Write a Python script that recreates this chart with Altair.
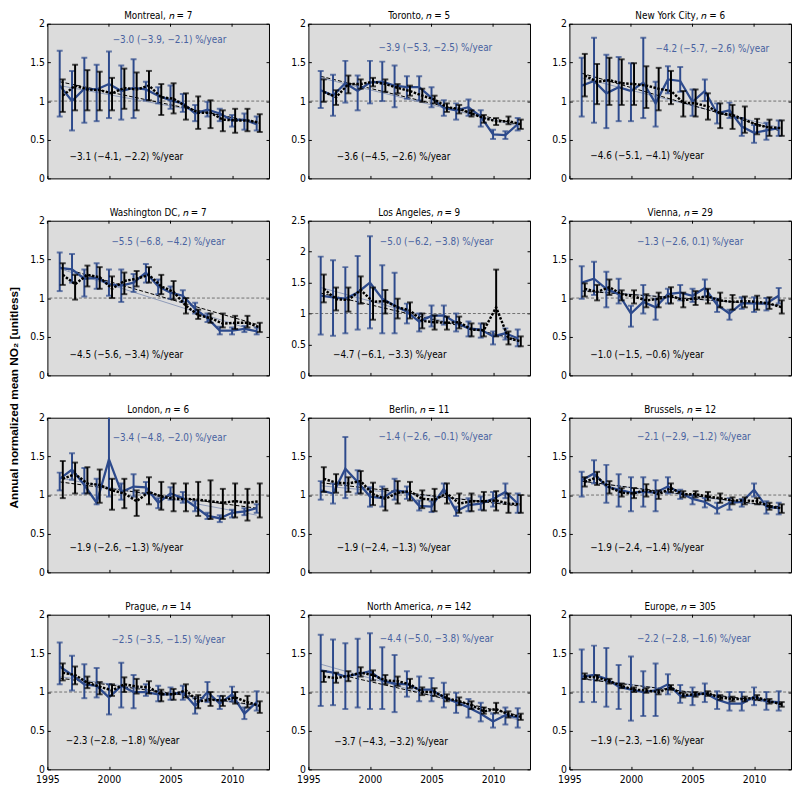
import altair as alt
import pandas as pd

YEARS = list(range(1996, 2013))
X_TICKS = [1995, 2000, 2005, 2010]
GND_SHIFT = 0.25

# (mean, lower, upper) per year 1996..2012 ; sat = blue series, gnd = black series
montreal_sat = [(1.20,0.80,1.65),(1.00,0.62,1.39),(1.16,0.72,1.56),(1.15,0.74,1.47),(1.22,0.78,1.64),(1.13,0.76,1.46),(1.17,0.78,1.54),(1.15,1.01,1.25),(1.07,0.97,1.18),(1.01,0.90,1.20),(0.97,0.86,1.09),(0.84,0.74,0.95),(0.89,0.80,0.99),(0.84,0.74,0.90),(0.75,0.67,0.82),(0.76,0.63,0.84),(0.70,0.62,0.80)]
montreal_gnd = [(1.07,0.86,1.28),(1.20,0.88,1.47),(1.15,0.88,1.40),(1.14,0.88,1.38),(1.10,0.88,1.30),(1.17,0.90,1.42),(1.15,0.88,1.37),(1.20,1.01,1.39),(1.05,0.82,1.22),(1.03,0.84,1.23),(0.93,0.76,1.10),(0.85,0.64,1.06),(0.85,0.65,1.01),(0.76,0.61,0.88),(0.75,0.59,0.90),(0.75,0.61,0.90),(0.72,0.60,0.83)]
toronto_sat = [(1.14,0.91,1.39),(1.07,0.81,1.34),(1.23,0.98,1.52),(1.13,0.88,1.33),(1.24,0.97,1.52),(1.25,1.00,1.51),(1.20,0.92,1.46),(1.18,1.03,1.32),(1.18,1.01,1.32),(1.04,0.92,1.18),(0.91,0.81,1.01),(0.88,0.76,0.97),(0.92,0.81,1.02),(0.80,0.67,0.88),(0.57,0.51,0.63),(0.56,0.51,0.61),(0.70,0.62,0.78)]
toronto_gnd = [(1.12,0.99,1.28),(1.05,0.95,1.14),(1.22,1.10,1.33),(1.22,1.16,1.28),(1.25,1.19,1.30),(1.22,1.12,1.28),(1.17,1.10,1.22),(1.13,1.07,1.20),(1.07,0.99,1.16),(1.02,0.97,1.07),(0.92,0.86,0.97),(0.90,0.84,0.95),(0.84,0.80,0.88),(0.78,0.72,0.82),(0.74,0.69,0.78),(0.74,0.70,0.80),(0.70,0.64,0.76)]
nyc_sat = [(1.20,0.80,1.56),(1.26,0.72,1.82),(1.10,0.65,1.60),(1.18,0.74,1.57),(1.13,0.74,1.49),(1.24,0.78,1.82),(0.97,0.67,1.25),(1.28,1.10,1.45),(1.26,1.12,1.44),(0.99,0.81,1.15),(1.13,1.00,1.28),(0.84,0.71,0.97),(0.88,0.78,0.98),(0.67,0.55,0.78),(0.59,0.46,0.69),(0.62,0.50,0.72),(0.65,0.55,0.75)]
nyc_gnd = [(1.33,1.06,1.61),(1.25,0.96,1.48),(1.27,0.95,1.56),(1.23,0.95,1.54),(1.22,0.95,1.49),(1.20,0.91,1.45),(1.16,0.88,1.43),(1.13,0.96,1.39),(0.98,0.80,1.13),(0.97,0.80,1.15),(0.93,0.76,1.10),(0.84,0.65,0.97),(0.82,0.64,0.95),(0.76,0.59,0.93),(0.69,0.57,0.77),(0.66,0.55,0.76),(0.65,0.55,0.75)]
washington_sat = [(1.39,1.09,1.59),(1.37,1.20,1.57),(1.25,1.02,1.37),(1.26,1.12,1.45),(1.18,1.03,1.37),(1.16,0.95,1.37),(1.20,1.08,1.31),(1.33,1.20,1.44),(1.15,1.05,1.24),(1.07,0.99,1.15),(1.03,0.95,1.10),(0.86,0.80,0.94),(0.74,0.69,0.80),(0.58,0.53,0.63),(0.58,0.53,0.62),(0.60,0.56,0.64),(0.57,0.53,0.62)]
washington_gnd = [(1.30,1.17,1.45),(1.18,0.98,1.30),(1.30,1.15,1.42),(1.27,1.12,1.40),(1.12,1.00,1.28),(1.22,1.05,1.33),(1.25,1.15,1.35),(1.30,1.20,1.40),(1.15,1.05,1.30),(1.08,0.98,1.22),(0.90,0.80,1.00),(0.78,0.73,0.85),(0.74,0.68,0.80),(0.67,0.62,0.80),(0.68,0.60,0.77),(0.68,0.62,0.77),(0.62,0.56,0.68)]
la_sat = [(1.29,0.66,1.92),(1.26,0.64,1.86),(1.24,0.68,1.75),(1.34,0.74,1.93),(1.50,0.76,2.25),(1.24,0.68,1.78),(1.13,0.68,1.66),(1.03,0.84,1.16),(0.87,0.71,1.00),(0.96,0.79,1.13),(0.97,0.82,1.13),(0.85,0.71,1.00),(0.76,0.63,0.87),(0.74,0.61,0.84),(0.63,0.50,0.71),(0.68,0.58,0.76),(0.60,0.47,0.74)]
la_gnd = [(1.40,1.18,1.63),(1.23,1.05,1.42),(1.22,1.03,1.42),(1.38,1.16,1.60),(1.19,0.90,1.42),(1.20,1.00,1.38),(1.10,0.92,1.24),(1.05,0.92,1.18),(0.88,0.76,1.00),(0.86,0.74,0.97),(0.85,0.74,0.95),(0.86,0.76,0.95),(0.74,0.63,0.84),(0.73,0.63,0.84),(1.10,0.63,1.71),(0.60,0.50,0.71),(0.55,0.47,0.63)]
vienna_sat = [(1.20,0.99,1.41),(1.25,1.04,1.47),(1.12,0.88,1.34),(1.05,0.93,1.25),(0.80,0.63,0.90),(0.95,0.80,1.17),(0.88,0.72,0.99),(1.05,0.93,1.12),(1.07,0.97,1.17),(1.03,0.95,1.12),(1.13,1.02,1.24),(0.91,0.82,0.99),(0.80,0.72,0.85),(0.93,0.86,1.01),(0.93,0.82,1.01),(0.93,0.84,1.00),(1.03,0.93,1.13)]
vienna_gnd = [(1.12,1.02,1.19),(1.08,0.97,1.17),(1.14,1.04,1.24),(1.05,0.97,1.10),(1.02,0.93,1.10),(0.97,0.88,1.05),(0.99,0.88,1.07),(1.03,0.93,1.14),(0.97,0.88,1.07),(1.00,0.91,1.09),(1.02,0.93,1.12),(0.97,0.88,1.07),(0.95,0.85,1.04),(0.96,0.88,1.02),(0.95,0.85,1.03),(0.93,0.86,1.01),(0.88,0.80,0.97)]
london_sat = [(1.21,1.06,1.29),(1.33,1.20,1.54),(1.13,1.02,1.35),(0.90,0.88,1.21),(1.46,0.98,2.10),(1.04,0.94,1.15),(1.11,0.98,1.27),(1.10,1.02,1.17),(0.90,0.83,0.96),(1.02,0.94,1.10),(0.96,0.90,1.04),(0.85,0.79,0.92),(0.73,0.69,0.77),(0.70,0.65,0.74),(0.77,0.71,0.81),(0.79,0.74,0.83),(0.83,0.77,0.88)]
london_gnd = [(1.21,0.96,1.44),(1.27,1.02,1.42),(1.15,1.02,1.36),(1.13,0.90,1.33),(1.06,0.81,1.21),(1.02,0.83,1.21),(0.92,0.73,1.06),(1.04,0.88,1.23),(0.98,0.81,1.17),(0.95,0.79,1.15),(0.95,0.79,1.15),(0.94,0.73,1.17),(0.92,0.69,1.19),(0.90,0.69,1.08),(0.92,0.71,1.15),(0.90,0.67,1.08),(0.92,0.71,1.15)]
berlin_sat = [(1.06,0.94,1.18),(1.02,0.89,1.15),(1.34,0.96,1.75),(1.17,1.02,1.32),(0.98,0.85,1.10),(0.96,0.85,1.11),(1.06,0.94,1.21),(1.04,0.95,1.11),(0.86,0.80,0.93),(0.85,0.78,0.92),(1.08,1.02,1.15),(0.79,0.73,0.85),(0.87,0.79,0.96),(0.89,0.81,0.98),(0.95,0.85,1.04),(1.04,0.96,1.15),(0.89,0.77,1.02)]
berlin_gnd = [(1.21,1.04,1.36),(1.16,1.03,1.27),(1.15,1.04,1.23),(1.18,1.02,1.31),(1.01,0.87,1.16),(0.95,0.80,1.08),(1.03,0.89,1.18),(1.05,0.93,1.17),(0.95,0.83,1.06),(0.94,0.79,1.08),(1.02,0.89,1.15),(0.89,0.77,1.02),(0.92,0.79,1.02),(0.92,0.80,1.04),(0.93,0.80,1.05),(0.89,0.77,1.02),(0.88,0.77,1.00)]
brussels_sat = [(1.19,0.98,1.30),(1.28,1.15,1.45),(1.11,0.90,1.39),(1.07,0.85,1.27),(1.03,0.79,1.23),(1.04,0.85,1.23),(1.03,0.79,1.19),(1.11,1.02,1.23),(1.03,0.95,1.07),(0.95,0.88,1.00),(0.91,0.84,0.96),(0.82,0.76,0.90),(0.90,0.81,0.96),(0.91,0.85,0.95),(1.07,0.98,1.15),(0.85,0.76,0.92),(0.83,0.75,0.90)]
brussels_gnd = [(1.17,1.11,1.23),(1.23,1.13,1.30),(1.10,1.02,1.18),(1.03,0.98,1.09),(1.02,0.96,1.09),(1.07,0.98,1.14),(1.01,0.95,1.06),(1.09,1.04,1.15),(1.01,0.97,1.05),(1.01,0.97,1.05),(0.98,0.93,1.04),(0.96,0.90,1.02),(0.93,0.88,0.97),(0.93,0.88,0.97),(0.92,0.88,0.96),(0.85,0.81,0.90),(0.83,0.77,0.88)]
prague_sat = [(1.33,1.10,1.64),(1.22,1.02,1.47),(1.10,0.92,1.36),(1.08,0.93,1.31),(0.93,0.71,1.10),(1.08,0.80,1.38),(1.00,0.79,1.22),(1.00,0.95,1.10),(0.97,0.88,1.08),(0.97,0.90,1.06),(1.00,0.90,1.08),(0.82,0.72,0.92),(1.00,0.87,1.13),(0.85,0.78,0.95),(0.97,0.88,1.07),(0.72,0.65,0.80),(0.87,0.76,1.01)]
prague_gnd = [(1.25,1.15,1.37),(1.22,1.10,1.33),(1.12,1.05,1.20),(1.07,0.97,1.13),(1.02,0.95,1.10),(1.10,1.00,1.19),(1.07,0.98,1.17),(1.06,0.98,1.14),(0.97,0.88,1.03),(0.97,0.90,1.04),(1.02,0.93,1.10),(0.88,0.79,0.96),(0.90,0.82,1.00),(0.89,0.82,0.95),(0.93,0.85,1.00),(0.87,0.80,0.95),(0.82,0.73,0.88)]
na_sat = [(1.28,0.82,1.74),(1.25,0.83,1.68),(1.20,0.78,1.63),(1.23,0.80,1.69),(1.27,0.78,1.76),(1.15,0.78,1.58),(1.11,0.74,1.48),(1.10,0.94,1.27),(1.03,0.88,1.20),(1.03,0.88,1.18),(0.93,0.80,1.12),(0.87,0.73,0.99),(0.80,0.67,0.91),(0.72,0.62,0.86),(0.62,0.54,0.72),(0.70,0.58,0.80),(0.67,0.54,0.79)]
na_gnd = [(1.20,1.13,1.27),(1.18,1.12,1.25),(1.21,1.14,1.27),(1.25,1.20,1.32),(1.22,1.15,1.28),(1.15,1.10,1.22),(1.14,1.08,1.20),(1.10,1.05,1.17),(1.00,0.96,1.06),(1.00,0.95,1.05),(0.92,0.88,0.97),(0.88,0.83,0.93),(0.83,0.78,0.88),(0.75,0.72,0.80),(0.78,0.73,0.86),(0.71,0.67,0.75),(0.68,0.64,0.72)]
europe_sat = [(1.20,0.87,1.55),(1.22,0.87,1.60),(1.17,0.81,1.57),(1.07,0.78,1.35),(1.03,0.63,1.46),(1.00,0.69,1.27),(1.02,0.69,1.37),(1.10,0.97,1.23),(0.95,0.86,1.09),(0.95,0.83,1.06),(0.99,0.87,1.11),(0.90,0.78,1.01),(0.85,0.76,1.00),(0.85,0.76,1.00),(0.94,0.83,1.06),(0.88,0.77,1.00),(0.87,0.76,1.01)]
europe_gnd = [(1.20,1.17,1.24),(1.19,1.15,1.22),(1.14,1.11,1.17),(1.08,1.05,1.11),(1.03,1.00,1.06),(1.02,0.99,1.05),(1.00,0.97,1.03),(1.06,1.03,1.09),(0.96,0.93,0.99),(0.97,0.94,1.00),(0.98,0.95,1.01),(0.93,0.90,0.96),(0.91,0.88,0.94),(0.91,0.88,0.94),(0.93,0.90,0.96),(0.88,0.85,0.91),(0.84,0.81,0.87)]

CITIES = ["Montreal", "Toronto", "New York City", "Washington DC", "Los Angeles", "Vienna",
          "London", "Berlin", "Brussels", "Prague", "North America", "Europe"]
N_SITES = [7, 5, 6, 7, 9, 29, 6, 11, 12, 14, 142, 305]
SAT_SERIES = [montreal_sat, toronto_sat, nyc_sat, washington_sat, la_sat, vienna_sat,
              london_sat, berlin_sat, brussels_sat, prague_sat, na_sat, europe_sat]
GND_SERIES = [montreal_gnd, toronto_gnd, nyc_gnd, washington_gnd, la_gnd, vienna_gnd,
              london_gnd, berlin_gnd, brussels_gnd, prague_gnd, na_gnd, europe_gnd]
SAT_TREND_TEXT = ["−3.0 (−3.9, −2.1) %/year", "−3.9 (−5.3, −2.5) %/year", "−4.2 (−5.7, −2.6) %/year",
                  "−5.5 (−6.8, −4.2) %/year", "−5.0 (−6.2, −3.8) %/year", "−1.3 (−2.6, 0.1) %/year",
                  "−3.4 (−4.8, −2.0) %/year", "−1.4 (−2.6, −0.1) %/year", "−2.1 (−2.9, −1.2) %/year",
                  "−2.5 (−3.5, −1.5) %/year", "−4.4 (−5.0, −3.8) %/year", "−2.2 (−2.8, −1.6) %/year"]
GND_TREND_TEXT = ["−3.1 (−4.1, −2.2) %/year", "−3.6 (−4.5, −2.6) %/year", "−4.6 (−5.1, −4.1) %/year",
                  "−4.5 (−5.6, −3.4) %/year", "−4.7 (−6.1, −3.3) %/year", "−1.0 (−1.5, −0.6) %/year",
                  "−1.9 (−2.6, −1.3) %/year", "−1.9 (−2.4, −1.3) %/year", "−1.9 (−2.4, −1.4) %/year",
                  "−2.3 (−2.8, −1.8) %/year", "−3.7 (−4.3, −3.2) %/year", "−1.9 (−2.3, −1.6) %/year"]
# fitted trend line values at 1996 and 2012
FIT_YEARS = [1996, 2012]
SAT_FIT = [(1.20, 0.73), (1.30, 0.68), (1.30, 0.66), (1.38, 0.57), (1.42, 0.55), (1.10, 0.90),
           (1.22, 0.74), (1.12, 0.88), (1.18, 0.84), (1.20, 0.82), (1.36, 0.64), (1.18, 0.85)]
GND_FIT = [(1.25, 0.72), (1.32, 0.70), (1.36, 0.62), (1.40, 0.66), (1.33, 0.58), (1.09, 0.91),
           (1.17, 0.83), (1.16, 0.86), (1.18, 0.85), (1.18, 0.83), (1.28, 0.70), (1.17, 0.86)]
Y_MAX = [2, 2, 2, 2, 2.5, 2, 2, 2, 2, 2, 2, 2]

# annotation anchor (year, value)
SAT_TEXT_POS = [(2000.3, 1.79), (2000.7, 1.69), (2002.0, 1.67), (2000.2, 1.73), (2000.8, 2.16), (2000.5, 1.73),
                (2000.3, 1.74), (2000.7, 1.75), (2000.5, 1.75), (2000.2, 1.67), (2000.8, 1.68), (2000.5, 1.68)]
GND_TEXT_POS = [(1996.8, 0.27), (1997.3, 0.27), (1996.7, 0.29), (1996.8, 0.26), (1997.0, 0.33), (1996.7, 0.26),
                (1996.8, 0.32), (1997.3, 0.31), (1996.7, 0.31), (1996.5, 0.36), (1997.1, 0.35), (1996.7, 0.36)]

FONT = "Liberation Sans Narrow, DejaVu Sans Condensed, Arial Narrow, sans-serif"
BLUE = "#2d4a8c"
TEXT_BLUE = "#4862a0"
FIT_BLUE = "#8e9ab8"
W, H = 225, 157


def series_df(vals):
    return pd.DataFrame({"year": YEARS,
                         "mean": [v[0] for v in vals],
                         "lo": [v[1] for v in vals],
                         "hi": [v[2] for v in vals]})


def make_panel(i, bottom):
    ymax = Y_MAX[i]
    yvals = [k / 2 for k in range(int(ymax * 2) + 1)]
    xs = alt.Scale(domain=[1995, 2013], nice=False, zero=False)
    ys = alt.Scale(domain=[0, ymax], nice=False, zero=False)
    common = dict(tickSize=3, offset=-3, domain=False, grid=False, title=None,
                  tickColor="black", tickWidth=1)
    if bottom:
        ax_b = alt.Axis(orient="bottom", values=X_TICKS, format="d", labels=True, labelPadding=5,
                        labelFont=FONT, labelFontSize=10.5, labelColor="black", labelFlush=False,
                        labelOverlap=False, **common)
    else:
        ax_b = alt.Axis(orient="bottom", values=X_TICKS, labels=False, **common)
    ax_l = alt.Axis(orient="left", values=yvals, format="~g", labelPadding=3,
                    labelFont=FONT, labelFontSize=10.5, labelColor="black", **common)
    ax_r = alt.Axis(orient="right", values=yvals, labels=False, **common)

    sat_df = series_df(SAT_SERIES[i])
    gnd_df = series_df(GND_SERIES[i])
    fit_df = pd.DataFrame({"year": FIT_YEARS, "sat": list(SAT_FIT[i]), "gnd": list(GND_FIT[i])})
    txt_df = pd.DataFrame({"x": [SAT_TEXT_POS[i][0], GND_TEXT_POS[i][0]],
                           "y": [SAT_TEXT_POS[i][1], GND_TEXT_POS[i][1]],
                           "t": [SAT_TREND_TEXT[i], GND_TREND_TEXT[i]],
                           "s": ["sat", "gnd"]})

    ref = alt.Chart(pd.DataFrame({"v": [1.0]})).mark_rule(
        color="#555555", strokeWidth=0.8, strokeDash=[3, 2]).encode(
        y=alt.Y("v:Q", scale=ys, axis=None))

    # inward tick marks along the top edge (matching the bottom axis ticks)
    top_ticks = alt.Chart(pd.DataFrame({"t": X_TICKS})).mark_rule(color="black", strokeWidth=1).encode(
        x=alt.X("t:Q", scale=xs, axis=None), y=alt.value(0), y2=alt.value(3))

    fit = alt.Chart(fit_df)
    sat_fit = fit.mark_line(color=FIT_BLUE, strokeWidth=1).encode(
        x=alt.X("year:Q", scale=xs, axis=ax_b), y=alt.Y("sat:Q", scale=ys, axis=ax_l))
    gnd_fit = fit.mark_line(color="black", strokeWidth=1, strokeDash=[4, 2]).encode(
        x=alt.X("year:Q", scale=xs, axis=None), y=alt.Y("gnd:Q", scale=ys, axis=ax_r))

    sb = alt.Chart(sat_df).encode(x=alt.X("year:Q", scale=xs, axis=None))
    sat_bar = sb.mark_rule(color=BLUE, strokeWidth=2, clip=True).encode(
        y=alt.Y("lo:Q", scale=ys, axis=None), y2="hi:Q")
    sat_cap_lo = sb.mark_tick(orient="horizontal", color=BLUE, size=6, thickness=2).encode(
        y=alt.Y("lo:Q", scale=ys, axis=None))
    sat_cap_hi = sb.mark_tick(orient="horizontal", color=BLUE, size=6, thickness=2, clip=True).encode(
        y=alt.Y("hi:Q", scale=ys, axis=None))
    sat_line = sb.mark_line(color=BLUE, strokeWidth=2.3).encode(
        y=alt.Y("mean:Q", scale=ys, axis=None))

    gb = alt.Chart(gnd_df).transform_calculate(xg=f"datum.year + {GND_SHIFT}").encode(
        x=alt.X("xg:Q", scale=xs, axis=None))
    gnd_bar = gb.mark_rule(color="black", strokeWidth=2).encode(
        y=alt.Y("lo:Q", scale=ys, axis=None), y2="hi:Q")
    gnd_cap_lo = gb.mark_tick(orient="horizontal", color="black", size=6, thickness=2).encode(
        y=alt.Y("lo:Q", scale=ys, axis=None))
    gnd_cap_hi = gb.mark_tick(orient="horizontal", color="black", size=6, thickness=2).encode(
        y=alt.Y("hi:Q", scale=ys, axis=None))
    gnd_line = gb.mark_line(color="black", strokeWidth=2.5, strokeDash=[2.5, 1.5]).encode(
        y=alt.Y("mean:Q", scale=ys, axis=None))

    txt = alt.Chart(txt_df).mark_text(align="left", baseline="middle", font=FONT, fontSize=10).encode(
        x=alt.X("x:Q", scale=xs, axis=None), y=alt.Y("y:Q", scale=ys, axis=None),
        text="t:N",
        color=alt.Color("s:N", scale=alt.Scale(domain=["sat", "gnd"], range=[TEXT_BLUE, "black"]), legend=None))

    # panel heading, centred just above the plot area
    head = alt.Chart(pd.DataFrame({"h": [f"{CITIES[i]}, 𝑛 = {N_SITES[i]}"]})).mark_text(
        align="center", baseline="middle", font=FONT, fontSize=10, color="black").encode(
        text="h:N", x=alt.value(W / 2), y=alt.value(-8))

    return alt.layer(ref, top_ticks, sat_fit, gnd_fit, sat_bar, sat_cap_lo, sat_cap_hi, sat_line,
                     gnd_bar, gnd_cap_lo, gnd_cap_hi, gnd_line, txt, head).resolve_axis(
        x="independent", y="independent").properties(width=W, height=H)


rows = []
for r in range(4):
    rows.append(alt.hconcat(*[make_panel(r * 3 + c, r == 3) for c in range(3)], spacing=20))

chart = alt.vconcat(*rows, spacing=23).properties(
    padding={"top": -4, "left": 0, "right": 0, "bottom": 0},
    title=alt.TitleParams(text="Annual normalized mean NO₂ [unitless]", orient="left", anchor="middle",
                          font="Liberation Sans, Arial, sans-serif", fontSize=12, fontWeight="bold",
                          color="black", offset=8)
).configure_view(fill="#dcdcdc", stroke="black", strokeWidth=1)

chart.save("out.html", embed_options={"renderer": "svg", "actions": False})
